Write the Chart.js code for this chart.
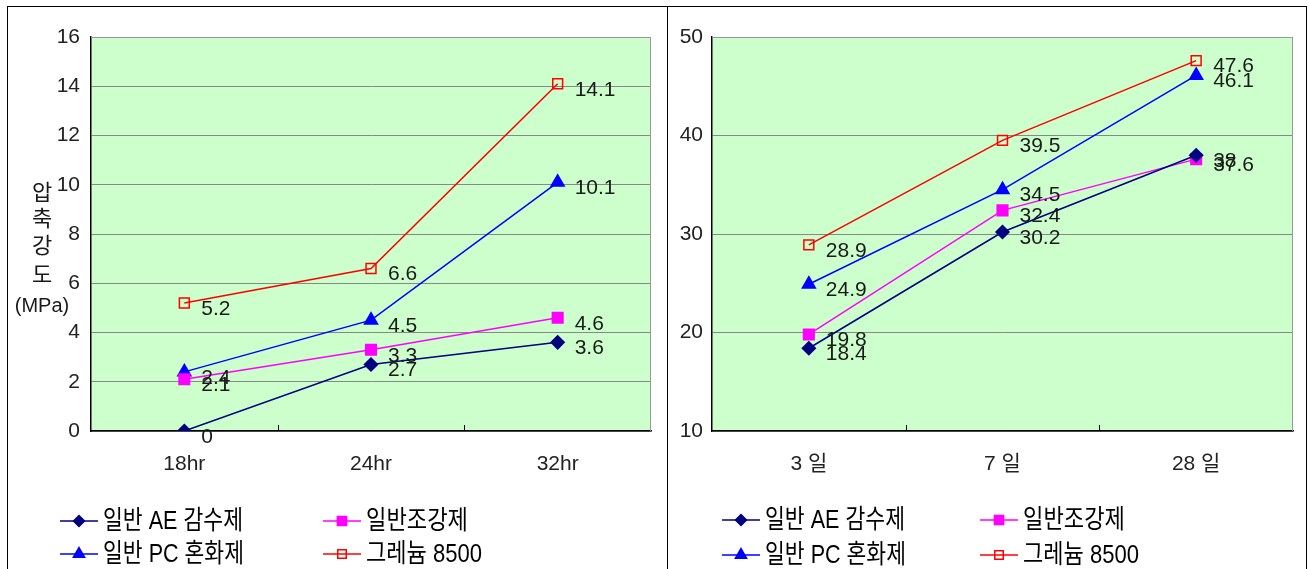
<!DOCTYPE html>
<html>
<head>
<meta charset="utf-8">
<script src="https://cdn.jsdelivr.net/npm/chart.js@4/dist/chart.umd.min.js"></script>
<style>
  body { margin: 0; background: #fff; }
  #wrap { position: absolute; left: 7px; top: 6px; width: 1298px; height: 600px; border: 1px solid #000; display: flex; }
  #p1 { width: 659px; height: 562px; border-right: 1px solid #000; position: relative; }
  #p2 { width: 638px; height: 562px; position: relative; }
</style>
</head>
<body>
<div id="wrap">
  <div id="p1"><canvas id="c1"></canvas></div>
  <div id="p2"><canvas id="c2"></canvas></div>
</div>
<script>
const FONT = '"Liberation Sans", "Noto Sans CJK KR", sans-serif';

// series names (legend, row by row)
const seriesNames = ['일반 AE 감수제', '일반조강제', '일반 PC 혼화제', '그레늄 8500'];

// left chart: early age
const earlyLabels = ['18hr', '24hr', '32hr'];
const earlyAE = [0, 2.7, 3.6];
const earlyJogang = [2.1, 3.3, 4.6];
const earlyPC = [2.4, 4.5, 10.1];
const earlyGraphene = [5.2, 6.6, 14.1];
const earlyTicks = [0, 2, 4, 6, 8, 10, 12, 14, 16];

// right chart: age in days
const lateLabels = ['3 일', '7 일', '28 일'];
const lateAE = [18.4, 30.2, 38];
const lateJogang = [19.8, 32.4, 37.6];
const latePC = [24.9, 34.5, 46.1];
const lateGraphene = [28.9, 39.5, 47.6];
const lateTicks = [10, 20, 30, 40, 50];

const yTitle = ['압', '축', '강', '도', '(MPa)'];

const looks = [
  { color: '#000080', style: 'rectRot', radius: 6.5, fill: '#000080' },
  { color: '#ff00ff', style: 'rect', radius: 7.5, fill: '#ff00ff' },
  { color: '#0000ff', style: 'triangle', radius: 7.5, fill: '#0000ff' },
  { color: '#ff0000', style: 'rect', radius: 7, fill: 'rgba(0,0,0,0)' }
];

const chartDeco = {
  id: 'chartDeco',
  beforeDraw(chart) {
    const a = chart.chartArea, ctx = chart.ctx;
    ctx.save();
    ctx.fillStyle = '#ccffcc';
    ctx.fillRect(a.left, a.top, a.right - a.left, a.bottom - a.top);
    ctx.restore();
  },
  afterDraw(chart) {
    const a = chart.chartArea, ctx = chart.ctx;
    const cfg = chart.options.plugins.chartDeco;
    ctx.save();
    // gray top/right frame
    ctx.strokeStyle = '#999';
    ctx.lineWidth = 1;
    ctx.beginPath();
    ctx.moveTo(a.left, a.top + 0.5);
    ctx.lineTo(a.right - 0.5, a.top + 0.5);
    ctx.lineTo(a.right - 0.5, a.bottom);
    ctx.stroke();
    // small inward ticks between categories
    const xs = chart.scales.x;
    ctx.strokeStyle = '#000';
    ctx.beginPath();
    for (let i = 0; i < xs.ticks.length - 1; i++) {
      const px = Math.round((xs.getPixelForValue(i) + xs.getPixelForValue(i + 1)) / 2) + 0.5;
      ctx.moveTo(px, a.bottom);
      ctx.lineTo(px, a.bottom - 6);
    }
    ctx.stroke();
    // value labels
    ctx.fillStyle = '#1a1a1a';
    ctx.font = '21px ' + FONT;
    ctx.textAlign = 'left';
    ctx.textBaseline = 'middle';
    chart.data.datasets.forEach((ds, di) => {
      chart.getDatasetMeta(di).data.forEach((pt, i) => {
        ctx.fillText(String(ds.data[i]), pt.x + 17, pt.y + 6);
      });
    });
    // y title, stacked characters
    if (cfg.title) {
      ctx.textAlign = 'center';
      const ty = [194, 220, 247, 276, 306];
      yTitle.forEach((t, i) => {
        ctx.font = (i < 4 ? '22px ' : '20px ') + FONT;
        ctx.fillText(t, cfg.titleX, ty[i] - 7);
      });
    }
    // legend, two columns
    ctx.textAlign = 'left';
    ctx.font = '26px ' + FONT;
    const widths = [140, 102, 141, 116];
    chart.data.datasets.forEach((ds, di) => {
      const col = di % 2, row = Math.floor(di / 2);
      const lx = cfg.legX[col], ly = cfg.legY[row];
      const lk = looks[di];
      ctx.strokeStyle = lk.color;
      ctx.lineWidth = 1.5;
      ctx.beginPath();
      ctx.moveTo(lx, ly);
      ctx.lineTo(lx + 38, ly);
      ctx.stroke();
      ctx.fillStyle = lk.fill;
      ctx.strokeStyle = lk.color;
      ctx.lineWidth = 1.5;
      Chart.helpers.drawPoint(ctx, { pointStyle: lk.style, radius: lk.radius - 1, borderWidth: 1.5, rotation: 0 }, lx + 19, ly);
      ctx.fillStyle = '#000';
      ctx.fillText(ds.label, lx + 43, ly + 1, widths[di]);
    });
    ctx.restore();
  }
};

function makeChart(id, labels, series, ticks, cfg) {
  const datasets = series.map((d, i) => ({
    label: seriesNames[i],
    data: d,
    borderColor: looks[i].color,
    backgroundColor: looks[i].fill,
    pointBackgroundColor: looks[i].fill,
    pointBorderColor: looks[i].color,
    pointStyle: looks[i].style,
    pointRadius: looks[i].radius,
    pointBorderWidth: 1.5,
    borderWidth: 1.5,
    tension: 0,
    fill: false
  }));
  return new Chart(document.getElementById(id), {
    type: 'line',
    data: { labels: labels, datasets: datasets },
    options: {
      responsive: true,
      maintainAspectRatio: false,
      animation: false,
      layout: { padding: { top: 30, right: cfg.padRight, bottom: 88, left: 0 } },
      scales: {
        x: {
          offset: true,
          grid: { display: false, drawTicks: false },
          border: { color: '#000', width: 1.5 },
          ticks: { color: '#222', font: { family: FONT, size: 21 }, padding: 21, maxRotation: 0 },
          afterFit: s => { s.height = 50; }
        },
        y: {
          min: ticks[0],
          max: ticks[ticks.length - 1],
          afterBuildTicks: s => { s.ticks = ticks.map(v => ({ value: v })); },
          grid: { color: '#888', lineWidth: 1, drawTicks: false },
          border: { color: '#000', width: 1.5 },
          ticks: { color: '#222', font: { family: FONT, size: 21 }, padding: cfg.tickPad },
          afterFit: s => { s.width = cfg.yWidth; }
        }
      },
      plugins: {
        legend: { display: false },
        tooltip: { enabled: false },
        chartDeco: cfg
      }
    },
    plugins: [chartDeco]
  });
}

makeChart('c1', earlyLabels, [earlyAE, earlyJogang, earlyPC, earlyGraphene], earlyTicks, {
  padRight: 16, yWidth: 83, tickPad: 11, title: true, titleX: 34,
  legX: [52, 315], legY: [514, 547]
});
makeChart('c2', lateLabels, [lateAE, lateJogang, latePC, lateGraphene], lateTicks, {
  padRight: 13, yWidth: 44, tickPad: 9, title: false,
  legX: [54, 312], legY: [513, 548]
});
</script>
</body>
</html>
